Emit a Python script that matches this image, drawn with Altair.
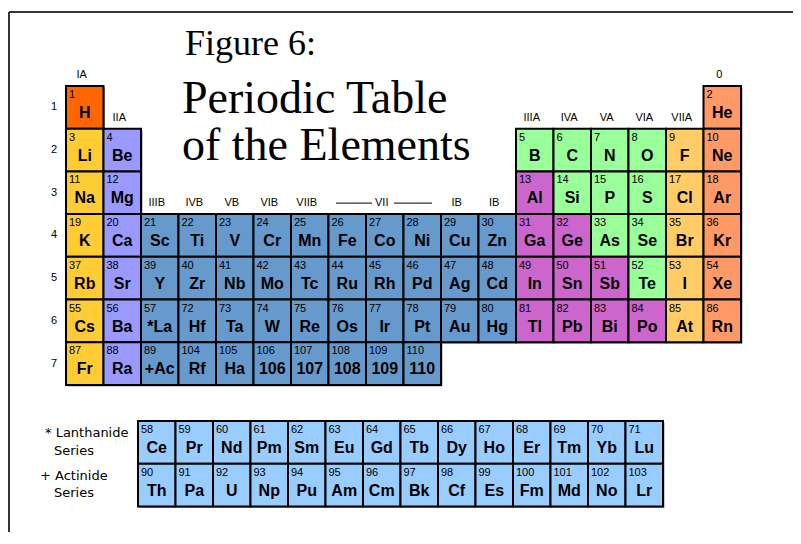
import altair as alt
import pandas as pd

# ------------------------------------------------------------------ data
main_symbols = [
    ["H", "", "", "", "", "", "", "", "", "", "", "", "", "", "", "", "", "He"],
    ["Li", "Be", "", "", "", "", "", "", "", "", "", "", "B", "C", "N", "O", "F", "Ne"],
    ["Na", "Mg", "", "", "", "", "", "", "", "", "", "", "Al", "Si", "P", "S", "Cl", "Ar"],
    ["K", "Ca", "Sc", "Ti", "V", "Cr", "Mn", "Fe", "Co", "Ni", "Cu", "Zn", "Ga", "Ge", "As", "Se", "Br", "Kr"],
    ["Rb", "Sr", "Y", "Zr", "Nb", "Mo", "Tc", "Ru", "Rh", "Pd", "Ag", "Cd", "In", "Sn", "Sb", "Te", "I", "Xe"],
    ["Cs", "Ba", "*La", "Hf", "Ta", "W", "Re", "Os", "Ir", "Pt", "Au", "Hg", "Tl", "Pb", "Bi", "Po", "At", "Rn"],
    ["Fr", "Ra", "+Ac", "Rf", "Ha", "106", "107", "108", "109", "110", "", "", "", "", "", "", "", ""],
]
main_numbers = [
    [1, 0, 0, 0, 0, 0, 0, 0, 0, 0, 0, 0, 0, 0, 0, 0, 0, 2],
    [3, 4, 0, 0, 0, 0, 0, 0, 0, 0, 0, 0, 5, 6, 7, 8, 9, 10],
    [11, 12, 0, 0, 0, 0, 0, 0, 0, 0, 0, 0, 13, 14, 15, 16, 17, 18],
    [19, 20, 21, 22, 23, 24, 25, 26, 27, 28, 29, 30, 31, 32, 33, 34, 35, 36],
    [37, 38, 39, 40, 41, 42, 43, 44, 45, 46, 47, 48, 49, 50, 51, 52, 53, 54],
    [55, 56, 57, 72, 73, 74, 75, 76, 77, 78, 79, 80, 81, 82, 83, 84, 85, 86],
    [87, 88, 89, 104, 105, 106, 107, 108, 109, 110, 0, 0, 0, 0, 0, 0, 0, 0],
]
lanthanide_symbols = ["Ce", "Pr", "Nd", "Pm", "Sm", "Eu", "Gd", "Tb", "Dy", "Ho", "Er", "Tm", "Yb", "Lu"]
lanthanide_numbers = [58, 59, 60, 61, 62, 63, 64, 65, 66, 67, 68, 69, 70, 71]
actinide_symbols = ["Th", "Pa", "U", "Np", "Pu", "Am", "Cm", "Bk", "Cf", "Es", "Fm", "Md", "No", "Lr"]
actinide_numbers = [90, 91, 92, 93, 94, 95, 96, 97, 98, 99, 100, 101, 102, 103]

class_members = {
    "hydrogen": ["H"],
    "alkali": ["Li", "Na", "K", "Rb", "Cs", "Fr"],
    "alkaline": ["Be", "Mg", "Ca", "Sr", "Ba", "Ra"],
    "poor": ["Al", "Ga", "Ge", "In", "Sn", "Sb", "Tl", "Pb", "Bi", "Po"],
    "nonmetal": ["B", "C", "N", "O", "Si", "P", "S", "As", "Se", "Te"],
    "halogen": ["F", "Cl", "Br", "I", "At"],
    "noble": ["He", "Ne", "Ar", "Kr", "Xe", "Rn"],
    "series": lanthanide_symbols + actinide_symbols,
}
class_colors = {
    "hydrogen": "#FF6600",
    "alkali": "#FFCC33",
    "alkaline": "#9999FF",
    "transition": "#6699CC",
    "poor": "#CC66CC",
    "nonmetal": "#99FF99",
    "halogen": "#FFCC66",
    "noble": "#FF9966",
    "series": "#99CCFF",
}

group_labels = ["IA", "IIA", "IIIB", "IVB", "VB", "VIB", "VIIB", "VII", "IB", "IB",
                "IIIA", "IVA", "VA", "VIA", "VIIA", "0"]
group_columns = [1, 2, 3, 4, 5, 6, 7, 9, 11, 12, 13, 14, 15, 16, 17, 18]
group_first_period = [1, 2, 4, 4, 4, 4, 4, 4, 4, 4, 2, 2, 2, 2, 2, 1]
period_labels = ["1", "2", "3", "4", "5", "6", "7"]
title_lines = ["Figure 6:", "Periodic Table", "of the Elements"]
series_labels = ["* Lanthanide", "Series", "+ Actinide", "Series"]

# ------------------------------------------------------------------ layout
W, H = 785, 524
CELL_W, CELL_H = 37.5, 42.7
X0, Y0 = 58, 78          # left edge of column 1, top edge of period 1


def u(px):
    return 0.5 + (px - X0) / CELL_W


def r(py):
    return 0.5 + (py - Y0) / CELL_H


XS = alt.Scale(domain=[u(0), u(W)], nice=False, zero=False)
YS = alt.Scale(domain=[r(0), r(H)], nice=False, zero=False, reverse=True)

sym_class = {}
for k, v in class_members.items():
    for s in v:
        sym_class[s] = k

rows = []
for pi, (syms, nums) in enumerate(zip(main_symbols, main_numbers)):
    for ci, (s, n) in enumerate(zip(syms, nums)):
        if s:
            rows.append(dict(col=ci + 1, row=pi + 1, sym=s, num=str(n),
                             cls=sym_class.get(s, "transition")))
LX = -0.08                        # series block is shifted a little left
L_ROW = r(413) + 0.5              # centre of lanthanide row
for i, (s, n) in enumerate(zip(lanthanide_symbols, lanthanide_numbers)):
    rows.append(dict(col=3 + i + LX, row=L_ROW, sym=s, num=str(n), cls="series"))
for i, (s, n) in enumerate(zip(actinide_symbols, actinide_numbers)):
    rows.append(dict(col=3 + i + LX, row=L_ROW + 1, sym=s, num=str(n), cls="series"))
cells = pd.DataFrame(rows)
cells["x1"] = cells["col"] - 0.5
cells["x2"] = cells["col"] + 0.5
cells["y1"] = cells["row"] - 0.5
cells["y2"] = cells["row"] + 0.5
cells["nx"] = cells["x1"] + 3 / CELL_W
cells["ny"] = cells["y1"] + 12 / CELL_H
cells["sy"] = cells["y1"] + 32 / CELL_H
cells["shx1"] = cells["x1"] + 1.5 / CELL_W
cells["shx2"] = cells["x2"] + 1.5 / CELL_W
cells["shy1"] = cells["y1"] + 1.5 / CELL_H
cells["shy2"] = cells["y2"] + 1.5 / CELL_H

groups = pd.DataFrame(dict(label=group_labels, col=group_columns, first=group_first_period))
groups["x"] = groups["col"] - 0.08
groups["y"] = groups["first"] - 0.5 - 11 / CELL_H

periods = pd.DataFrame(dict(label=period_labels, row=list(range(1, 8))))
periods["x"] = u(46)

vii_y = 4 - 0.5 - 11 / CELL_H
vii_lines = pd.DataFrame(dict(x=[u(328), u(386)], x2=[u(364), u(424)], y=[vii_y, vii_y]))

titles = pd.DataFrame(dict(label=title_lines,
                           x=[u(177), u(174), u(174)],
                           y=[r(47), r(105), r(152)],
                           size=[36, 46, 46]))

series_df = pd.DataFrame(dict(label=series_labels,
                              x=[u(37), u(46), u(32), u(46)],
                              y=[r(425), r(443), r(468), r(485)]))

frame = pd.DataFrame(dict(x=[u(1), u(1)], x2=[u(W), u(1)], y=[r(4), r(4)], y2=[r(4), r(H)]))

# ------------------------------------------------------------------ layers
shadow = alt.Chart(cells).mark_rect(fill="#9a9a9a").encode(
    x=alt.X("shx1:Q", scale=XS, axis=None), x2="shx2:Q",
    y=alt.Y("shy1:Q", scale=YS, axis=None), y2="shy2:Q",
)

rects = alt.Chart(cells).mark_rect(stroke="black", strokeWidth=2).encode(
    x=alt.X("x1:Q", scale=XS, axis=None), x2="x2:Q",
    y=alt.Y("y1:Q", scale=YS, axis=None), y2="y2:Q",
    fill=alt.Fill("cls:N", scale=alt.Scale(domain=list(class_colors.keys()),
                                           range=list(class_colors.values())), legend=None),
)

nums = alt.Chart(cells).mark_text(align="left", baseline="alphabetic", font="Liberation Sans",
                                  fontSize=11, color="black").encode(
    x=alt.X("nx:Q", scale=XS, axis=None), y=alt.Y("ny:Q", scale=YS, axis=None), text="num:N")

syms = alt.Chart(cells).mark_text(align="center", baseline="alphabetic", font="Liberation Sans",
                                  fontSize=16, fontWeight="bold", color="black").encode(
    x=alt.X("col:Q", scale=XS, axis=None), y=alt.Y("sy:Q", scale=YS, axis=None), text="sym:N")

glabels = alt.Chart(groups).mark_text(align="center", baseline="middle", font="Liberation Sans",
                                      fontSize=11, color="black").encode(
    x=alt.X("x:Q", scale=XS, axis=None), y=alt.Y("y:Q", scale=YS, axis=None), text="label:N")

plabels = alt.Chart(periods).mark_text(align="center", baseline="middle", font="Liberation Sans",
                                       fontSize=11, color="black").encode(
    x=alt.X("x:Q", scale=XS, axis=None), y=alt.Y("row:Q", scale=YS, axis=None), text="label:N")

vii = alt.Chart(vii_lines).mark_rule(color="black", strokeWidth=1).encode(
    x=alt.X("x:Q", scale=XS, axis=None), x2="x2:Q", y=alt.Y("y:Q", scale=YS, axis=None))

tlabels = alt.Chart(titles).mark_text(align="left", baseline="alphabetic", font="Liberation Serif",
                                      color="black").encode(
    x=alt.X("x:Q", scale=XS, axis=None), y=alt.Y("y:Q", scale=YS, axis=None), text="label:N",
    size=alt.Size("size:Q", scale=None, legend=None))

slabels = alt.Chart(series_df).mark_text(align="left", baseline="middle", font="DejaVu Sans",
                                         fontSize=13, color="black").encode(
    x=alt.X("x:Q", scale=XS, axis=None), y=alt.Y("y:Q", scale=YS, axis=None), text="label:N")

frame_rules = alt.Chart(frame).mark_rule(color="#333333", strokeWidth=2).encode(
    x=alt.X("x:Q", scale=XS, axis=None), x2="x2:Q",
    y=alt.Y("y:Q", scale=YS, axis=None), y2="y2:Q")

chart = alt.layer(frame_rules, shadow, rects, nums, syms, glabels, plabels, vii, tlabels, slabels).properties(
    width=W, height=H, padding=0, autosize="none", background="white"
).configure_view(stroke=None)

chart.save("out.html", embed_options={"renderer": "svg", "actions": False})
